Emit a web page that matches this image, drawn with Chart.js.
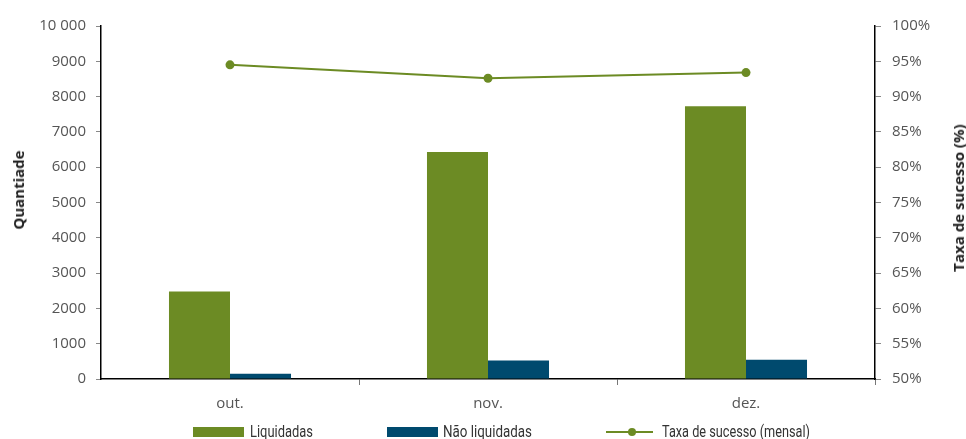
<!DOCTYPE html>
<html>
<head>
<meta charset="utf-8">
<script src="https://cdn.jsdelivr.net/npm/chart.js@4/dist/chart.umd.min.js"></script>
<style>
    html, body { margin: 0; padding: 0; background: #fff; }
    #wrap { position: relative; width: 966px; height: 439px; overflow: hidden; }
    #chart { position: absolute; left: 0; top: 0; }
    .axis-title {
        position: absolute;
        font-family: 'Open Sans', sans-serif;
        font-weight: bold;
        font-size: 15px;
        color: #222;
        white-space: nowrap;
        transform: translate(-50%, -50%) rotate(-90deg);
    }
    .leg-box { position: absolute; top: 427px; width: 51px; height: 10px; }
    .leg-text {
        position: absolute;
        top: 422px;
        line-height: 20px;
        font-family: 'Roboto', sans-serif;
        font-size: 16px;
        color: #333;
        white-space: nowrap;
        transform-origin: 0 50%;
    }
    .leg-line { position: absolute; top: 431px; left: 606px; width: 47px; height: 2px; background: #6c8b24; }
    .leg-dot { position: absolute; top: 428px; left: 628px; width: 8px; height: 8px; border-radius: 50%; background: #6c8b24; }
</style>
</head>
<body>
<div id="wrap">
    <canvas id="chart" width="966" height="439"></canvas>
    <div class="axis-title" style="left:18px; top:190px;">Quantiade</div>
    <div class="axis-title" style="left:958px; top:198px;">Taxa de sucesso (%)</div>

    <div class="leg-box" style="left:193px; background:#6c8b24;"></div>
    <div class="leg-text" data-w="63" style="left:250px;">Liquidadas</div>
    <div class="leg-box" style="left:387px; background:#004a6e;"></div>
    <div class="leg-text" data-w="89" style="left:443px;">Não liquidadas</div>
    <div class="leg-line"></div>
    <div class="leg-dot"></div>
    <div class="leg-text" data-w="148" style="left:662px;">Taxa de sucesso (mensal)</div>
</div>
<script>
// Data
const months = ['out.', 'nov.', 'dez.'];
const liquidadas = [2480, 6430, 7730];
const naoLiquidadas = [150, 525, 545];
const taxaSucesso = [94.5, 92.6, 93.4];

const GREEN = '#6c8b24';
const BLUE = '#004a6e';
const tickFont = { family: 'Open Sans', size: 15 };
const tickColor = '#555';

// Legend uses a condensed face in the original, squeeze the text to fit
document.querySelectorAll('.leg-text').forEach(el => {
    const target = parseFloat(el.dataset.w);
    const actual = el.getBoundingClientRect().width;
    if (actual > 0) el.style.transform = `scaleX(${target / actual})`;
});

// Format left axis numbers ("10 000" gets a space separator)
function formatQty(v) {
    return v >= 10000 ? String(v).replace(/\B(?=(\d{3})+(?!\d))/g, ' ') : String(v);
}

const ctx = document.getElementById('chart').getContext('2d');
new Chart(ctx, {
    data: {
        labels: months,
        datasets: [
            {
                type: 'line',
                label: 'Taxa de sucesso (mensal)',
                data: taxaSucesso,
                yAxisID: 'y1',
                borderColor: GREEN,
                backgroundColor: GREEN,
                borderWidth: 2,
                pointRadius: 4.5,
                pointBackgroundColor: GREEN,
                pointBorderWidth: 0,
                tension: 0,
                order: 0
            },
            {
                type: 'bar',
                label: 'Liquidadas',
                data: liquidadas,
                yAxisID: 'y',
                backgroundColor: GREEN,
                barPercentage: 1,
                categoryPercentage: 0.473,
                order: 1
            },
            {
                type: 'bar',
                label: 'Não liquidadas',
                data: naoLiquidadas,
                yAxisID: 'y',
                backgroundColor: BLUE,
                barPercentage: 1,
                categoryPercentage: 0.473,
                order: 1
            }
        ]
    },
    options: {
        responsive: false,
        animation: false,
        layout: { padding: { top: 26, left: 0, right: 0, bottom: 0 } },
        plugins: {
            legend: { display: false },
            tooltip: { enabled: false }
        },
        scales: {
            x: {
                offset: true,
                grid: {
                    display: true, drawOnChartArea: false, drawTicks: true, tickLength: 6, offset: true,
                    color: (c) => (c.index === 0 || c.index === months.length) ? 'rgba(0,0,0,0)' : '#777'
                },
                border: { display: true, color: '#000', width: 1.5 },
                ticks: { font: tickFont, color: tickColor, padding: 10 },
                afterFit: (s) => { s.height = 60; }
            },
            y: {
                position: 'left',
                min: 0,
                max: 10000,
                ticks: { stepSize: 1000, font: tickFont, color: tickColor, padding: 10, callback: formatQty },
                grid: { display: true, drawOnChartArea: false, drawTicks: true, tickLength: 5, color: '#888' },
                border: { display: true, color: '#000', width: 1.5 },
                afterFit: (s) => { s.width = 101; }
            },
            y1: {
                position: 'right',
                min: 50,
                max: 100,
                ticks: { stepSize: 5, font: tickFont, color: tickColor, padding: 11, callback: (v) => v + '%' },
                grid: { display: true, drawOnChartArea: false, drawTicks: true, tickLength: 6, color: '#888' },
                border: { display: true, color: '#000', width: 1.5 },
                afterFit: (s) => { s.width = 91; }
            }
        }
    }
});
</script>
</body>
</html>
